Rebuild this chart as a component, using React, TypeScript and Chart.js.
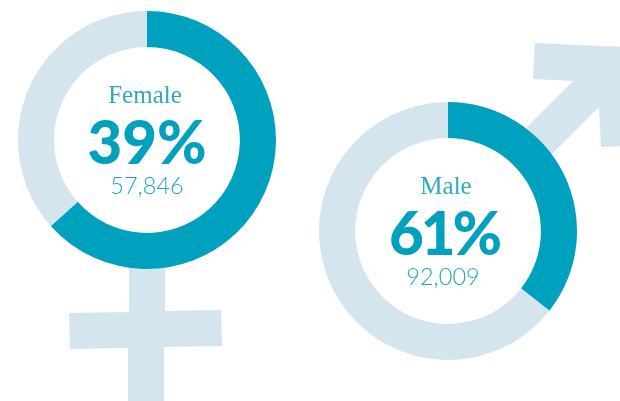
import React, { useEffect, useRef } from "react";
import { Chart, registerables } from "chart.js";

Chart.register(...registerables);

const segmentNames = ["Highlighted", "Remainder"];
const femaleValues = [63.4, 36.6];
const maleValues = [35.6, 64.4];
const femaleText = ["Female", "39%", "57,846"];
const maleText = ["Male", "61%", "92,009"];

const TEAL = "#00a0bf";
const PALE = "#d5e5ee";

type Tune = { pctDx: number; numDx: number; pctSpacing: string };

function makeCenterText(lines: string[], tune: Tune) {
  return {
    id: "centerText",
    afterDraw(chart: any) {
      const { ctx, chartArea } = chart;
      const cx = (chartArea.left + chartArea.right) / 2;
      const cy = (chartArea.top + chartArea.bottom) / 2;
      ctx.save();
      ctx.textAlign = "center";
      ctx.textBaseline = "alphabetic";
      ctx.fillStyle = "#2fa9c3";
      ctx.font = '300 25px "Liberation Serif", serif';
      ctx.fillText(lines[0], cx - 2, cy - 37);
      ctx.fillStyle = TEAL;
      ctx.font = '900 60px Lato, sans-serif';
      ctx.letterSpacing = tune.pctSpacing;
      ctx.fillText(lines[1], cx + tune.pctDx, cy + 24);
      ctx.letterSpacing = "0px";
      ctx.fillStyle = "#1fa5c1";
      ctx.font = '300 23.5px Lato, sans-serif';
      ctx.fillText(lines[2], cx + tune.numDx, cy + 54);
      ctx.restore();
    },
  };
}

function Ring({ values, lines, left, top, tune }: { values: number[]; lines: string[]; left: number; top: number; tune: Tune }) {
  const ref = useRef<HTMLCanvasElement>(null);
  useEffect(() => {
    const chart = new Chart(ref.current!, {
      type: "doughnut",
      data: {
        labels: segmentNames,
        datasets: [{ data: values, backgroundColor: [TEAL, PALE], borderWidth: 0 }],
      },
      options: {
        animation: false,
        responsive: false,
        cutout: "72%",
        layout: { padding: 0 },
        plugins: { legend: { display: false }, tooltip: { enabled: false } },
      },
      plugins: [makeCenterText(lines, tune)],
    });
    return () => chart.destroy();
  }, []);
  return (
    <canvas
      ref={ref}
      width={258}
      height={258}
      style={{ position: "absolute", left, top, width: 258, height: 258, background: "transparent" }}
    />
  );
}

export default function App() {
  return (
    <div style={{ position: "fixed", left: 0, top: 0, width: 620, height: 401, overflow: "hidden", background: "#fff" }}>
      <svg width={620} height={401} style={{ position: "absolute", left: 0, top: 0 }}>
        <polygon
          fill={PALE}
          points="129,260 165,260 165,311 221,310 222,346 164,347 164,401 128,401 128,348 70,349 69,313 129,312"
        />
        <polygon
          fill={PALE}
          points="535,43 625,47 625,146 601,147 599,107 550,156 527,127 573,81 533,79"
        />
      </svg>
      <Ring values={femaleValues} lines={femaleText} left={18} top={11} tune={{ pctDx: 0, numDx: 0, pctSpacing: "0px" }} />
      <Ring values={maleValues} lines={maleText} left={319} top={102} tune={{ pctDx: -4, numDx: -5, pctSpacing: "-3px" }} />
    </div>
  );
}
